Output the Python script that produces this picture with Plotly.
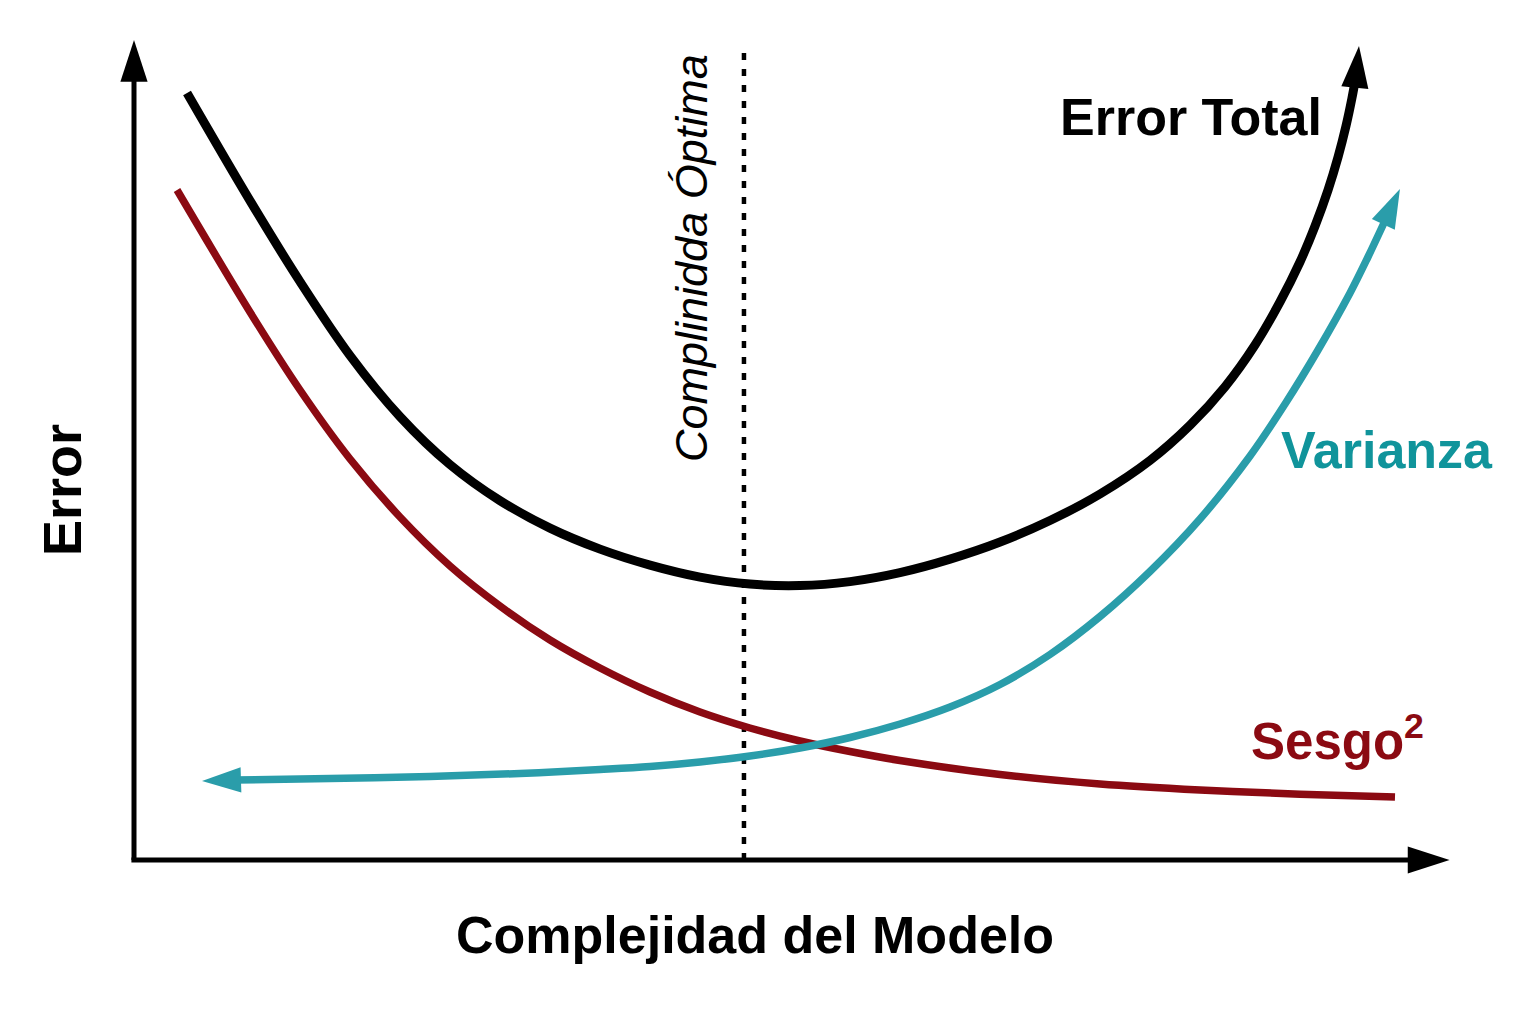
import plotly.graph_objects as go

# ---------------- data (model complexity vs. error, arbitrary units) ----------------
total_x = [0.408, 0.892, 1.277, 1.662, 2.046, 2.431, 2.815, 3.200, 3.585, 3.969, 4.354,
           4.738, 5.123, 5.508, 5.892, 6.277, 6.662, 7.046, 7.431, 7.815, 8.123, 8.392,
           8.623, 8.815, 8.969, 9.085, 9.185, 9.262, 9.323, 9.369, 9.400, 9.423]
total_y = [9.5875, 8.2425, 7.23, 6.305, 5.5425, 4.9425, 4.4925, 4.14875, 3.88625, 3.68625, 3.53625,
           3.44875, 3.43, 3.48, 3.5925, 3.76125, 3.975, 4.24375, 4.575, 4.99375, 5.43375, 5.915,
           6.4375, 6.975, 7.475, 7.925, 8.375, 8.7875, 9.175, 9.525, 9.80, 10.175]

bias_x = [0.331, 0.892, 1.277, 1.662, 2.046, 2.431, 2.815, 3.200, 3.585, 3.969, 4.354,
          4.738, 5.123, 5.508, 5.892, 6.662, 7.431, 8.200, 8.969, 9.700]
bias_y = [8.375, 6.85, 5.875, 5.0125, 4.2875, 3.675, 3.175, 2.75, 2.40, 2.10, 1.85,
          1.65, 1.4875, 1.35625, 1.24375, 1.06875, 0.95, 0.875, 0.8225, 0.7875]

var_x = [0.523, 0.777, 1.508, 2.277, 2.969, 3.585, 3.969, 4.354, 4.738, 5.123, 5.508,
         5.892, 6.277, 6.662, 7.046, 7.431, 7.815, 8.200, 8.585, 8.854, 9.108, 9.354,
         9.492, 9.615, 9.738]
var_y = [0.9875, 1.00, 1.01875, 1.04375, 1.08125, 1.13125, 1.16875, 1.225, 1.30, 1.40, 1.53125,
         1.70, 1.9125, 2.19375, 2.56875, 3.04375, 3.60625, 4.2625, 5.05, 5.70, 6.375, 7.0875,
         7.5375, 7.9625, 8.3875]

optimal_complexity = 4.692

labels = {
    "total": "Error Total",
    "var": "Varianza",
    "bias": "Sesgo<sup>2</sup>",
    "opt": "Complinidda Óptima",
    "xtitle": "Complejidad del Modelo",
    "ytitle": "Error",
}

# ---------------- styles / layout ----------------
BLACK = "#000000"
RED = "#8B0A12"
TEAL = "#2A9DAA"
TEAL_TXT = "#10949B"
FONT = "Liberation Sans, Arial, sans-serif"

W, H = 1520, 1008          # page has an 8px body margin
OFF = 8
X_RANGE = [-0.9692, 10.7231]
Y_RANGE = [-1.95, 10.65]
X_TIP, Y_TIP = 10.12, 10.25      # axis arrow tips
X_SHAFT, Y_SHAFT = 9.90, 9.95    # axis shaft ends
DOT_TOP = 10.15

fig = go.Figure()

def arrow_head(x_prev, y_prev, x_tip, y_tip, color, size):
    fig.add_trace(go.Scatter(
        x=[x_prev, x_tip], y=[y_prev, y_tip], mode="markers",
        marker=dict(symbol="arrow", size=[0, size], color=color, opacity=1,
                    angleref="previous", line=dict(width=0)),
        hoverinfo="skip", showlegend=False))

# axes
fig.add_trace(go.Scatter(x=[0, 0], y=[0, Y_SHAFT], mode="lines",
                         line=dict(color=BLACK, width=5), hoverinfo="skip", showlegend=False))
fig.add_trace(go.Scatter(x=[-0.02, X_SHAFT], y=[0, 0], mode="lines",
                         line=dict(color=BLACK, width=5), hoverinfo="skip", showlegend=False))
arrow_head(0, Y_SHAFT, 0, Y_TIP, BLACK, 44)
arrow_head(X_SHAFT, 0, X_TIP, 0, BLACK, 44)

# optimal complexity dotted line
fig.add_trace(go.Scatter(x=[optimal_complexity, optimal_complexity], y=[0, DOT_TOP], mode="lines",
                         line=dict(color=BLACK, width=4.5, dash="7px,9px"),
                         hoverinfo="skip", showlegend=False))

# bias^2
fig.add_trace(go.Scatter(x=bias_x, y=bias_y, mode="lines",
                         line=dict(color=RED, width=7.5, shape="spline", smoothing=1.0),
                         hoverinfo="skip", showlegend=False))

# variance (arrow heads at both ends)
fig.add_trace(go.Scatter(x=var_x[1:-1], y=var_y[1:-1], mode="lines",
                         line=dict(color=TEAL, width=7.5, shape="spline", smoothing=1.0),
                         hoverinfo="skip", showlegend=False))
arrow_head(var_x[1], var_y[1], var_x[0], var_y[0], TEAL, 41)
arrow_head(var_x[-2], var_y[-2], var_x[-1], var_y[-1], TEAL, 41)

# total error
fig.add_trace(go.Scatter(x=total_x[:-1], y=total_y[:-1], mode="lines",
                         line=dict(color=BLACK, width=9, shape="spline", smoothing=1.0),
                         hoverinfo="skip", showlegend=False))
arrow_head(total_x[-2], total_y[-2], total_x[-1], total_y[-1], BLACK, 44)

def txt(text, px, py, size, color=BLACK, angle=0, bold=True, italic=False):
    t = f"<b>{text}</b>" if bold else text
    if italic:
        t = f"<i>{t}</i>"
    fig.add_annotation(text=t, x=(px - OFF) / W, y=1 - (py - OFF) / H,
                       xref="paper", yref="paper",
                       showarrow=False, textangle=angle, xanchor="center", yanchor="middle",
                       font=dict(family=FONT, size=size, color=color))

txt(labels["total"], 1191, 117, 52)
txt(labels["var"], 1387, 450, 52, TEAL_TXT)
txt(labels["bias"], 1337, 738, 51, RED)
txt(labels["opt"], 691, 258, 45, angle=-90, bold=False, italic=True)
txt(labels["xtitle"], 755, 935, 52)
txt(labels["ytitle"], 62, 490, 54, angle=-90)

fig.update_layout(
    width=W, height=H, autosize=False,
    margin=dict(l=0, r=0, t=0, b=0),
    paper_bgcolor="white", plot_bgcolor="white",
    xaxis=dict(range=X_RANGE, visible=False, fixedrange=True),
    yaxis=dict(range=Y_RANGE, visible=False, fixedrange=True),
    showlegend=False,
)

fig.write_html("out.html", config={"displayModeBar": False})
